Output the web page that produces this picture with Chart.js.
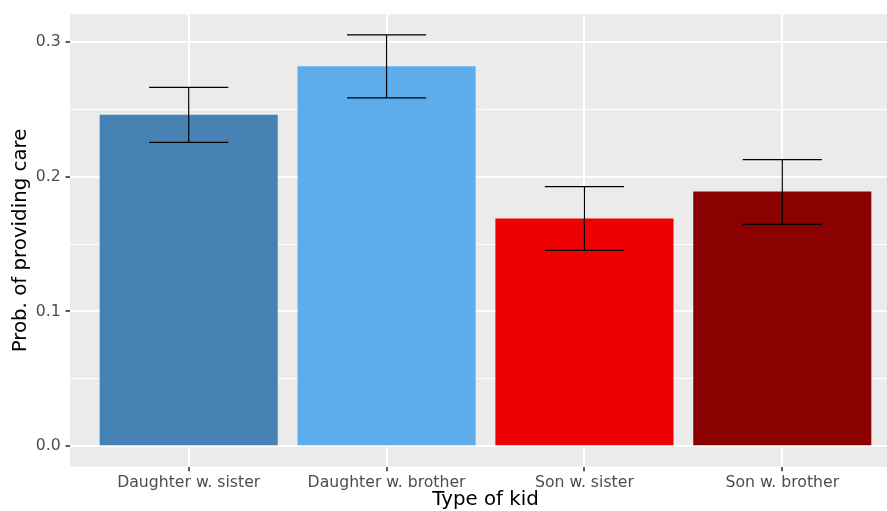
<!DOCTYPE html>
<html>
<head>
<meta charset="utf-8">
<script src="https://cdn.jsdelivr.net/npm/chart.js@4.4.1/dist/chart.umd.min.js"></script>
<style>
  html, body { margin: 0; padding: 0; background: #ffffff; }
  #wrap { width: 887px; height: 511px; overflow: hidden; position: relative; }
  canvas { display: block; }
</style>
</head>
<body>
<div id="wrap"><canvas id="care" width="901" height="511"></canvas></div>
<script>
// Care probability by type of kid, with confidence intervals
const kidTypes = ['Daughter w. sister', 'Daughter w. brother', 'Son w. sister', 'Son w. brother'];
const careProb = [0.246, 0.282, 0.169, 0.189];
const ciLower = [0.2255, 0.2585, 0.1454, 0.1647];
const ciUpper = [0.2663, 0.3054, 0.1926, 0.2127];
const barColors = ['#4682B4', '#5DADEC', '#EE0000', '#8B0000'];
const yMajorTicks = [0, 0.1, 0.2, 0.3];
const yMinorTicks = [0.05, 0.15, 0.25];

const FONT = 'DejaVu Sans';
const yTop = Math.max(...ciUpper);
const yMin = -0.05 * yTop;
const yMax = 1.05 * yTop;
const isMajor = v => yMajorTicks.some(t => Math.abs(t - v) < 1e-9);

const panelBg = {
  id: 'panelBg',
  beforeDraw(chart) {
    const { ctx, chartArea: a } = chart;
    ctx.save();
    ctx.fillStyle = '#EBEBEB';
    ctx.fillRect(a.left, a.top, a.right - a.left, a.bottom - a.top);
    ctx.restore();
  }
};

const errorBars = {
  id: 'errorBars',
  afterDatasetsDraw(chart) {
    const { ctx, scales: { x, y } } = chart;
    const half = 0.2; // half of the cap width, in category units
    ctx.save();
    ctx.strokeStyle = '#000000';
    ctx.lineWidth = 1.2;
    ciLower.forEach((lo, i) => {
      const hi = ciUpper[i];
      const cx = x.getPixelForValue(i);
      const xl = x.getPixelForValue(i - half);
      const xr = x.getPixelForValue(i + half);
      const yl = y.getPixelForValue(lo);
      const yh = y.getPixelForValue(hi);
      ctx.beginPath();
      ctx.moveTo(xl, yh); ctx.lineTo(xr, yh);
      ctx.moveTo(xl, yl); ctx.lineTo(xr, yl);
      ctx.moveTo(cx, yh); ctx.lineTo(cx, yl);
      ctx.stroke();
    });
    ctx.restore();
  }
};

new Chart(document.getElementById('care'), {
  type: 'bar',
  data: {
    datasets: [{
      data: careProb.map((v, i) => ({ x: i, y: v })),
      backgroundColor: barColors,
      borderWidth: 0,
      barPercentage: 0.9,
      categoryPercentage: 1.0
    }]
  },
  options: {
    responsive: false,
    devicePixelRatio: 1,
    animation: false,
    layout: { padding: { top: 13.3, right: 0, bottom: 0, left: 0 } },
    plugins: { legend: { display: false }, tooltip: { enabled: false } },
    scales: {
      x: {
        type: 'linear',
        min: -0.6,
        max: 3.6,
        offset: false,
        afterBuildTicks: s => { s.ticks = kidTypes.map((_, i) => ({ value: i })); },
        afterFit: s => { s.height = 44.3; },
        ticks: {
          callback: v => kidTypes[v] ?? '',
          color: '#4D4D4D',
          font: { family: FONT, size: 15.7 },
          padding: 2,
          maxRotation: 0,
          autoSkip: false
        },
        grid: { offset: false, color: '#FFFFFF', lineWidth: 2, tickLength: 4.5, tickColor: '#333333', tickWidth: 1.6 },
        border: { display: false },
        title: {
          display: true,
          text: 'Type of kid',
          color: '#000000',
          font: { family: FONT, size: 19.8, lineHeight: 1.1 },
          padding: { top: 0, bottom: 0 }
        }
      },
      y: {
        min: yMin,
        max: yMax,
        afterBuildTicks: s => {
          s.ticks = [...yMajorTicks, ...yMinorTicks].sort((a, b) => a - b).map(v => ({ value: v }));
        },
        afterFit: s => { s.width = 70; },
        ticks: {
          callback: v => isMajor(v) ? v.toFixed(1) : '',
          color: '#4D4D4D',
          font: { family: FONT, size: 15.7 },
          padding: 4.8,
          autoSkip: false
        },
        grid: {
          color: '#FFFFFF',
          lineWidth: c => isMajor(c.tick.value) ? 2 : 1,
          tickLength: 4.5,
          tickColor: c => isMajor(c.tick.value) ? '#333333' : 'rgba(0,0,0,0)',
          tickWidth: 1.6
        },
        border: { display: false },
        title: {
          display: true,
          text: 'Prob. of providing care',
          color: '#000000',
          font: { family: FONT, size: 19.8, lineHeight: 1.2 },
          padding: { top: 9, bottom: 0 }
        }
      }
    }
  },
  plugins: [panelBg, errorBars]
});
</script>
</body>
</html>
